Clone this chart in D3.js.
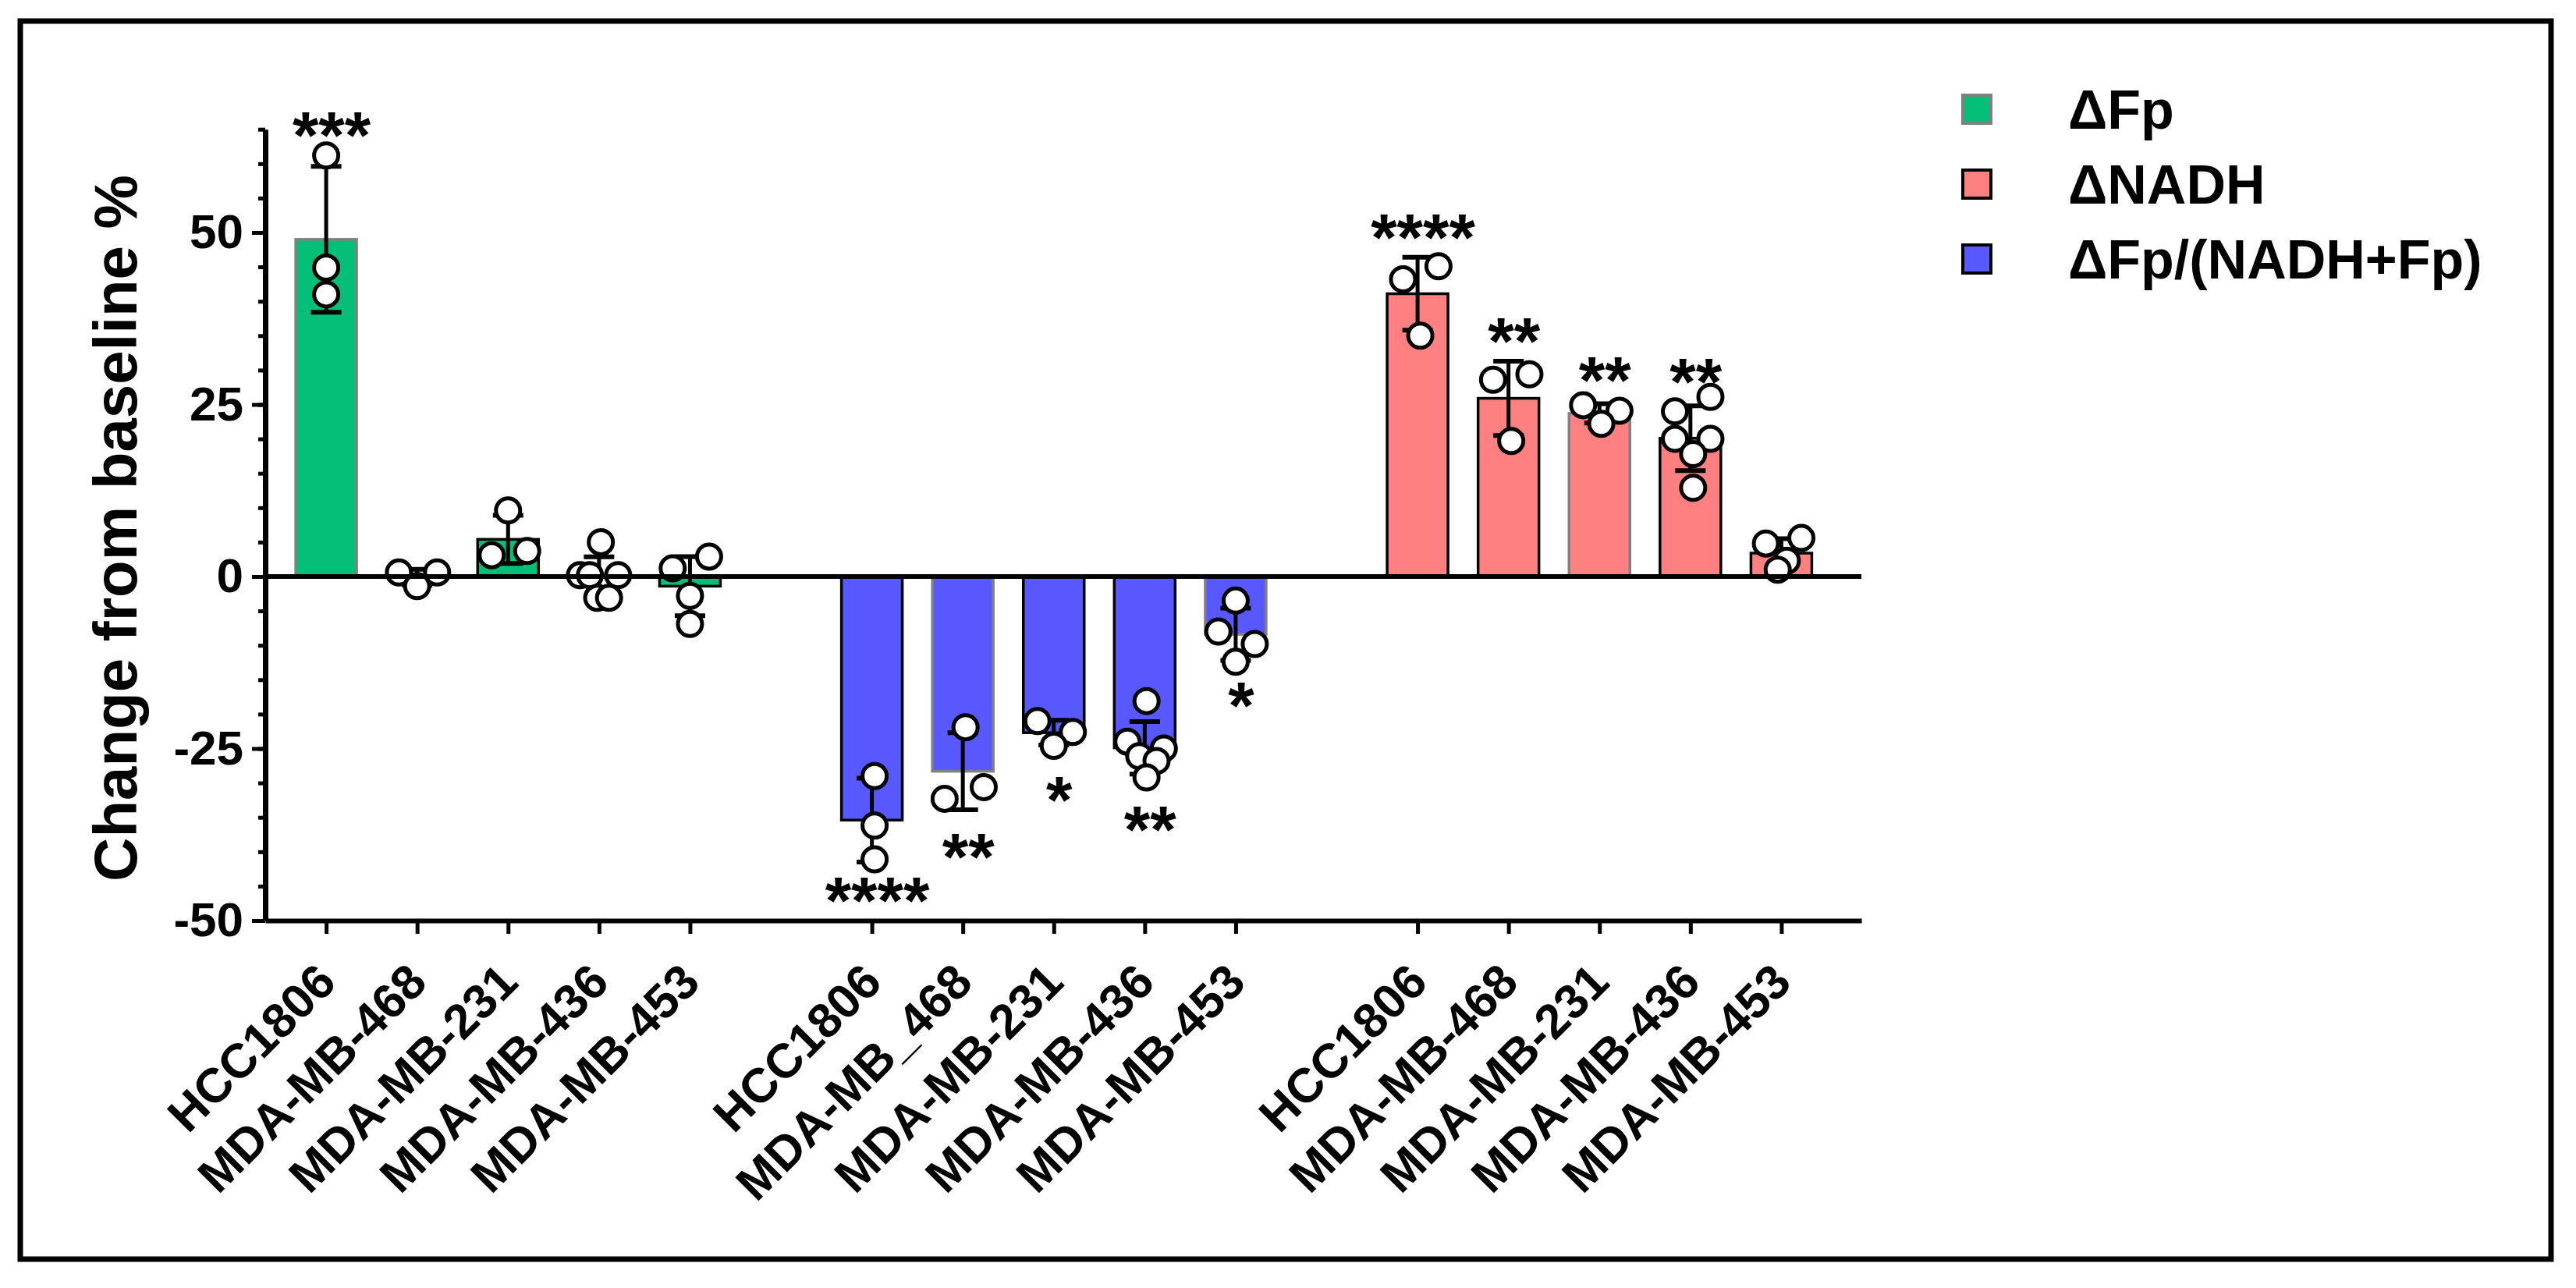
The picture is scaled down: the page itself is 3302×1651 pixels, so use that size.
<!DOCTYPE html>
<html><head><meta charset="utf-8">
<script src="https://cdn.jsdelivr.net/npm/d3@7"></script>
<style>
body{margin:0;background:#fff}
svg{display:block}
text{font-family:"Liberation Sans",Arial,Helvetica,sans-serif}
</style>
</head><body>
<svg id="chart" width="3302" height="1651"></svg>
<script>
// ---------- DATA ----------
const seriesNames = ["ΔFp", "ΔNADH", "ΔFp/(NADH+Fp)"];

const fpLabels    = ["HCC1806", "MDA-MB-468", "MDA-MB-231", "MDA-MB-436", "MDA-MB-453"];
const ratioLabels = ["HCC1806", "MDA-MB_468", "MDA-MB-231", "MDA-MB-436", "MDA-MB-453"];
const nadhLabels  = ["HCC1806", "MDA-MB-468", "MDA-MB-231", "MDA-MB-436", "MDA-MB-453"];

const fpMean = [49.0, -0.1, 5.4, -0.1, -1.4];
const fpSD   = [10.6, 1.15, 3.5, 2.95, 4.3];
const fpPoints = [
  [61.2, 44.9, 41.0],
  [0.6, 0.6, -1.4],
  [9.6, 3.1, 3.7],
  [5.0, 0.2, 0.2, 0.2, -3.1, -3.1],
  [1.2, 2.9, -2.8, -6.9]
];
const fpJitter = [
  [0, 0, 0],
  [-0.2, 0.22, 0],
  [0, -0.18, 0.21],
  [0.02, -0.21, -0.1, 0.21, -0.02, 0.11],
  [-0.19, 0.21, 0, 0]
];
const fpSig  = ["***", "", "", "", ""];
const fpSigY = [66.1, null, null, null, null];

const ratioMean = [-35.4, -28.3, -22.7, -24.9, -8.4];
const ratioSD   = [6.1, 5.6, 1.8, 3.8, 3.8];
const ratioPoints = [
  [-29.0, -36.2, -41.1],
  [-21.9, -32.3, -30.6],
  [-21.0, -22.6, -24.6],
  [-18.1, -24.0, -25.0, -26.1, -26.8, -29.2],
  [-3.5, -8.0, -9.8, -12.4]
];
const ratioJitter = [
  [0.03, 0.03, 0.03],
  [0.03, -0.2, 0.23],
  [-0.18, 0.21, 0],
  [0.02, -0.19, 0.21, -0.06, 0.13, 0.02],
  [0, -0.19, 0.21, 0]
];
const ratioSig  = ["****", "**", "*", "**", "*"];
const ratioSigY = [-45.1, -38.7, -30.4, -34.8, -16.7];

const nadhMean = [41.1, 25.9, 23.7, 20.1, 3.4];
const nadhSD   = [5.3, 5.4, 1.4, 4.7, 2.1];
const nadhPoints = [
  [43.2, 45.1, 35.0],
  [28.6, 29.4, 19.7],
  [24.9, 24.1, 22.2],
  [26.1, 24.0, 20.0, 20.0, 17.8, 12.9],
  [4.8, 5.6, 2.3, 1.0]
];
const nadhJitter = [
  [-0.16, 0.23, 0.03],
  [-0.17, 0.23, 0.03],
  [-0.18, 0.22, 0.02],
  [0.22, -0.17, -0.17, 0.22, 0.03, 0.03],
  [-0.17, 0.22, 0.06, -0.04]
];
const nadhSig  = ["****", "**", "**", "**", ""];
const nadhSigY = [51.3, 36.2, 30.6, 30.3, null];

const yMajorTicks = [-50, -25, 0, 25, 50];
const yMinorTicks = d3.range(-50, 66, 5);
const yTitle = "Change from baseline %";

// ---------- STYLE ----------
const GREEN = "#05BE78", PINK = "#FF8080", BLUE = "#5858FF", GRAY = "#808080";
const fpEdges    = [GRAY, "#000", "#000", "#000", "#000"];
const ratioEdges = ["#000", GRAY, "#000", "#000", GRAY];
const nadhEdges  = ["#000", "#000", GRAY, "#000", "#000"];

const groups = [
  {labels: fpLabels, mean: fpMean, sd: fpSD, pts: fpPoints, jit: fpJitter, sig: fpSig, sigY: fpSigY, color: GREEN, edges: fpEdges, start: 0},
  {labels: ratioLabels, mean: ratioMean, sd: ratioSD, pts: ratioPoints, jit: ratioJitter, sig: ratioSig, sigY: ratioSigY, color: BLUE, edges: ratioEdges, start: 6},
  {labels: nadhLabels, mean: nadhMean, sd: nadhSD, pts: nadhPoints, jit: nadhJitter, sig: nadhSig, sigY: nadhSigY, color: PINK, edges: nadhEdges, start: 12}
];

const svg = d3.select("#chart");
const FONT = '"Liberation Sans",Arial,sans-serif';

// outer frame
svg.append("rect").attr("x", 26).attr("y", 27).attr("width", 3244).attr("height", 1587)
  .attr("fill", "none").attr("stroke", "#000").attr("stroke-width", 7);

// scales
const x = d3.scaleLinear().domain([-0.67, 16.88]).range([340, 2386]);
const y = d3.scaleLinear().domain([-50, 65]).range([1180, 165.7]);
const barW = 78;

// build flat list
const items = [];
groups.forEach(g => g.labels.forEach((lab, i) => items.push({g, i, slot: g.start + i, label: lab})));

// bars
svg.append("g").selectAll("rect").data(items).join("rect")
  .attr("x", d => x(d.slot) - barW / 2)
  .attr("y", d => y(Math.max(0, d.g.mean[d.i])))
  .attr("width", barW)
  .attr("height", d => Math.abs(y(d.g.mean[d.i]) - y(0)))
  .attr("fill", d => d.g.color)
  .attr("stroke", d => d.g.edges[d.i])
  .attr("stroke-width", 3.5);

// error bars
const eb = svg.append("g").attr("stroke", "#000");
items.forEach(d => {
  const m = d.g.mean[d.i], s = d.g.sd[d.i], cx = x(d.slot);
  eb.append("line").attr("x1", cx).attr("x2", cx).attr("y1", y(m - s)).attr("y2", y(m + s)).attr("stroke-width", 5);
  [m - s, m + s].forEach(v => eb.append("line").attr("x1", cx - 19.5).attr("x2", cx + 19.5)
    .attr("y1", y(v)).attr("y2", y(v)).attr("stroke-width", 6));
});

// points
const pts = [];
items.forEach(d => d.g.pts[d.i].forEach((v, k) => pts.push({v, slot: d.slot + d.g.jit[d.i][k]})));
svg.append("g").selectAll("circle").data(pts).join("circle")
  .attr("cx", d => x(d.slot)).attr("cy", d => y(d.v)).attr("r", 15.5)
  .attr("fill", "#fff").attr("stroke", "#000").attr("stroke-width", 5);

// y axis
const yMinor = svg.append("g").attr("transform", "translate(340,0)")
  .call(d3.axisLeft(y).tickValues(yMinorTicks).tickSize(9).tickSizeOuter(0).tickFormat(""));
yMinor.select(".domain").remove();
yMinor.selectAll("line").attr("stroke-width", 5);
const yAx = svg.append("g").attr("transform", "translate(340,0)")
  .call(d3.axisLeft(y).tickValues(yMajorTicks).tickSize(17).tickSizeOuter(0).tickPadding(11)
    .tickFormat(v => String(v)));
yAx.select(".domain").attr("stroke-width", 7);
yAx.selectAll(".tick line").attr("stroke-width", 5);
yAx.selectAll("text").attr("font-family", FONT).attr("font-size", 62).attr("font-weight", "bold").attr("fill", "#000");

// x axis at bottom
const xAx = svg.append("g").attr("transform", `translate(0,${y(-50)})`)
  .call(d3.axisBottom(x).tickValues(items.map(d => d.slot)).tickSize(17).tickSizeOuter(0)
    .tickFormat(s => items.find(d => d.slot === s).label));
xAx.select(".domain").attr("stroke-width", 6);
xAx.selectAll(".tick line").attr("stroke-width", 5);
xAx.selectAll("text")
  .attr("y", null).attr("dy", null)
  .attr("transform", "translate(15,82) rotate(-45)")
  .attr("text-anchor", "end")
  .attr("font-family", FONT).attr("font-size", 62).attr("font-weight", "bold").attr("fill", "#000");

// zero line
svg.append("line").attr("x1", x(-0.67)).attr("x2", x(16.88)).attr("y1", y(0)).attr("y2", y(0))
  .attr("stroke", "#000").attr("stroke-width", 6);

// significance stars
svg.append("g").selectAll("text").data(items.filter(d => d.g.sig[d.i])).join("text")
  .attr("x", d => x(d.slot) + 7)
  .attr("y", d => y(d.g.sigY[d.i]) + 47.5)
  .attr("text-anchor", "middle")
  .attr("font-size", 86).attr("font-weight", "bold")
  .text(d => d.g.sig[d.i]);

// y title
svg.append("text").attr("transform", "translate(175,677) rotate(-90)")
  .attr("text-anchor", "middle").attr("font-size", 78).attr("font-weight", "bold")
  .text(yTitle);

// legend
const legendColors = [GREEN, PINK, BLUE];
const legendEdges = [GRAY, "#000", "#000"];
const lg = svg.append("g");
seriesNames.forEach((n, i) => {
  const top = 122 + i * 96;
  lg.append("rect").attr("x", 2516).attr("y", top).attr("width", 36).attr("height", 36)
    .attr("fill", legendColors[i]).attr("stroke", legendEdges[i]).attr("stroke-width", 4);
  lg.append("text").attr("x", 2651).attr("y", top + 43).attr("font-size", 70).attr("font-weight", "bold").text(n);
});
</script>
</body></html>
